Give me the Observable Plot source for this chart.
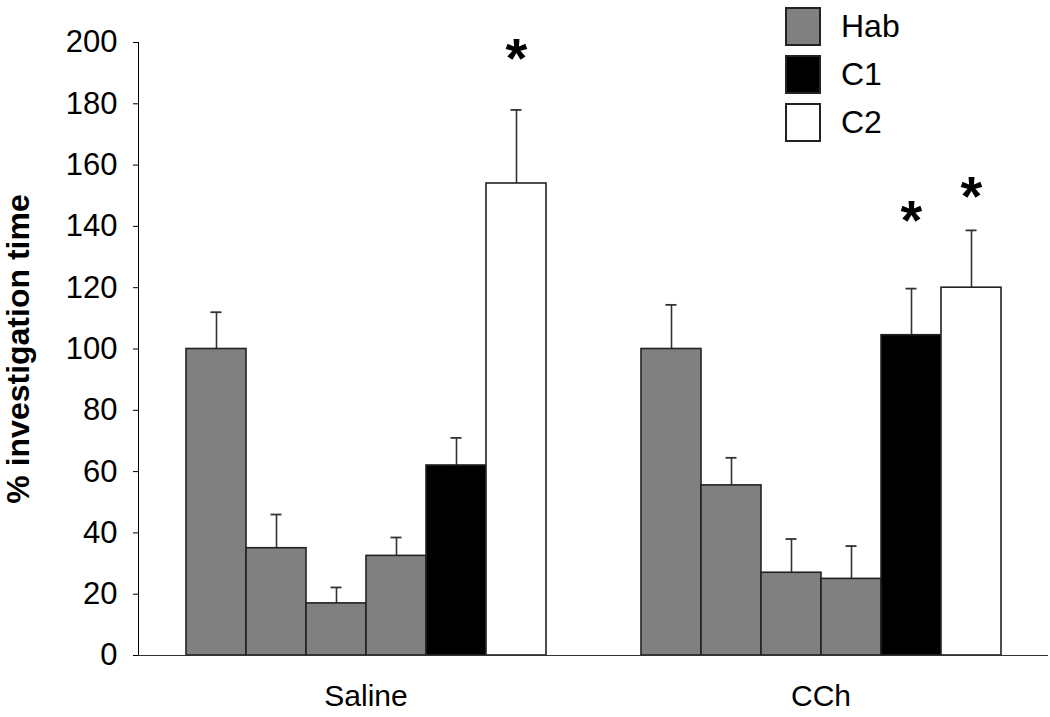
<!DOCTYPE html>
<html>
<head>
<meta charset="utf-8">
<script src="https://cdn.jsdelivr.net/npm/d3@7"></script>
<script src="https://cdn.jsdelivr.net/npm/@observablehq/plot@0.6"></script>
<style>
  html, body { margin: 0; padding: 0; background: #fff; }
  #wrap { position: relative; width: 1050px; height: 717px; font-family: "Liberation Sans", Arial, sans-serif; }
  #wrap svg { font-family: "Liberation Sans", Arial, sans-serif; }
  g[aria-label="y-axis tick label"] { font-size: 31px; }
  g[aria-label="y-axis label"] { font-size: 32px; font-weight: bold; }
  g[aria-label="fx-axis tick label"] { font-size: 30px; }
  #legend { position: absolute; left: 785px; top: 2px; }
  .item { display: flex; align-items: center; height: 48px; }
  .sw { width: 32px; height: 35px; border: 2.5px solid #222; box-sizing: content-box; }
  .lab { margin-left: 20px; font-size: 32px; color: #000; line-height: 1; }
</style>
</head>
<body>
<div id="wrap"></div>
<script>
const groups = ["Saline", "CCh"];
const conds = ["Hab1", "Hab2", "Hab3", "Hab4", "C1", "C2"];
const types = ["Hab", "Hab", "Hab", "Hab", "C1", "C2"];
const salineMean = [100, 35, 17, 32.5, 62, 154];
const salineSEM = [12, 11, 5.2, 6, 9, 24];
const cchMean = [100, 55.5, 27, 25, 104.5, 120];
const cchSEM = [14.4, 9, 11, 10.7, 15.2, 18.7];
const legendTypes = ["Hab", "C1", "C2"];
const legendFills = ["#808080", "#000000", "#ffffff"];
const yTicks = [0, 20, 40, 60, 80, 100, 120, 140, 160, 180, 200];
// significance markers: group, condition, height of the asterisk (y units)
const starGroup = ["Saline", "CCh", "CCh"];
const starCond = ["C2", "C1", "C2"];
const starLevel = [194.6, 141.7, 149.7];

const rows = [];
groups.forEach((g, gi) => {
  const m = gi === 0 ? salineMean : cchMean;
  const s = gi === 0 ? salineSEM : cchSEM;
  conds.forEach((c, i) => rows.push({group: g, cond: c, type: types[i], mean: m[i], top: m[i] + s[i]}));
});
const stars = starGroup.map((g, i) => ({group: g, cond: starCond[i], y: starLevel[i]}));

const chart = Plot.plot({
  width: 1050,
  height: 717,
  marginLeft: 137,
  marginRight: 2,
  marginTop: 42,
  marginBottom: 62,
  style: {fontFamily: "Liberation Sans, Arial, sans-serif", color: "#000", background: "#fff"},
  fx: {domain: groups, padding: 0, axis: "bottom", label: null, tickSize: 0, tickPadding: 29},
  x: {domain: conds, paddingInner: 0, paddingOuter: 0.74, axis: null},
  y: {domain: [0, 200], ticks: yTicks, tickSize: 5, tickPadding: 16, line: true,
      label: "% investigation time", labelArrow: "none", labelAnchor: "center", labelOffset: 132},
  color: {domain: legendTypes, range: legendFills},
  marks: [
    Plot.ruleX(rows, {fx: "group", x: "cond", y1: "mean", y2: "top", stroke: "#333", strokeWidth: 1.6}),
    Plot.tickY(rows, {fx: "group", x: "cond", y: "top", stroke: "#333", strokeWidth: 1.8, insetLeft: 24.5, insetRight: 24.5}),
    Plot.barY(rows, {fx: "group", x: "cond", y: "mean", fill: "type", stroke: "#222", strokeWidth: 1.6}),
    Plot.ruleY([0], {stroke: "#333", strokeWidth: 1.2}),
    Plot.text(stars, {fx: "group", x: "cond", y: "y", text: () => "*", fontSize: 56, fontWeight: "bold", fill: "#000"})
  ]
});

const wrap = document.getElementById("wrap");
wrap.appendChild(chart);

const legend = document.createElement("div");
legend.id = "legend";
legendTypes.forEach((t, i) => {
  const item = document.createElement("div");
  item.className = "item";
  const sw = document.createElement("div");
  sw.className = "sw";
  sw.style.background = legendFills[i];
  const lab = document.createElement("span");
  lab.className = "lab";
  lab.textContent = t;
  item.appendChild(sw);
  item.appendChild(lab);
  legend.appendChild(item);
});
wrap.appendChild(legend);
</script>
</body>
</html>
